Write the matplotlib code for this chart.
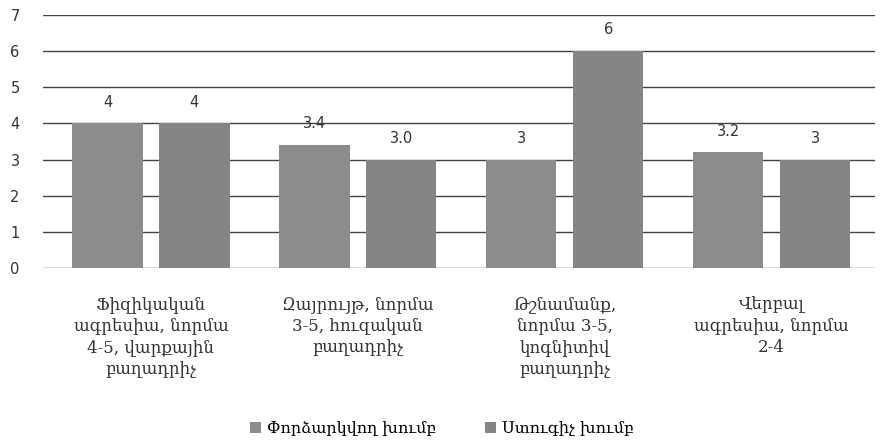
import numpy as np
import matplotlib.pyplot as plt

categories = ["Ֆիզիկական\nագրեսիա, նորմա\n4-5, վարքային\nբաղադրիչ",
              "Զայրույթ, նորմա\n3-5, հուզական\nբաղադրիչ",
              "Թշնամանք,\nնորմա 3-5,\nկոգնիտիվ\nբաղադրիչ",
              "Վերբալ\nագրեսիա, նորմա\n2-4"]
series_names = ["Փորձարկվող խումբ", "Ստուգիչ խումբ"]
exp_vals = [4, 3.4, 3, 3.2]
ctrl_vals = [4, 3.0, 6, 3]
exp_labels = ["4", "3.4", "3", "3.2"]
ctrl_labels = ["4", "3.0", "6", "3"]

fig = plt.figure(figsize=(8.84, 4.47), dpi=100)
ax = fig.add_axes([0.049, 0.40, 0.941, 0.567])

x = np.arange(len(categories))
w = 0.34
bars1 = ax.bar(x - 0.21, exp_vals, w, color="#8c8c8c", label=series_names[0], zorder=2)
bars2 = ax.bar(x + 0.21, ctrl_vals, w, color="#858585", label=series_names[1], zorder=2)

for bars, labs in [(bars1, exp_labels), (bars2, ctrl_labels)]:
    for b, t in zip(bars, labs):
        ax.text(b.get_x() + b.get_width() / 2, b.get_height() + 0.38, t,
                ha="center", va="bottom", fontsize=10.5, color="#333333",
                family="DejaVu Sans")

ax.set_xlim(-0.52, 3.5)
ax.set_ylim(0, 7)
ax.set_yticks(range(8))
ax.yaxis.grid(True, color="#444444", linewidth=1)
ax.set_axisbelow(True)
for s in ax.spines.values():
    s.set_visible(False)
ax.tick_params(length=0, labelsize=10.5, colors="#333333")
ax.tick_params(axis="y", pad=17)
ax.set_xticks(x)
ax.set_xticklabels(categories, family="DejaVu Serif", fontsize=12, linespacing=1.35)
ax.tick_params(axis="x", pad=20)

fig.legend(handles=[bars1, bars2], loc="lower center", bbox_to_anchor=(0.5, -0.01),
           ncol=2, frameon=False, prop={"family": "DejaVu Serif", "size": 11.5},
           handlelength=0.7, handleheight=0.7, columnspacing=3, handletextpad=0.4)

fig.savefig("out.png", dpi=100)
